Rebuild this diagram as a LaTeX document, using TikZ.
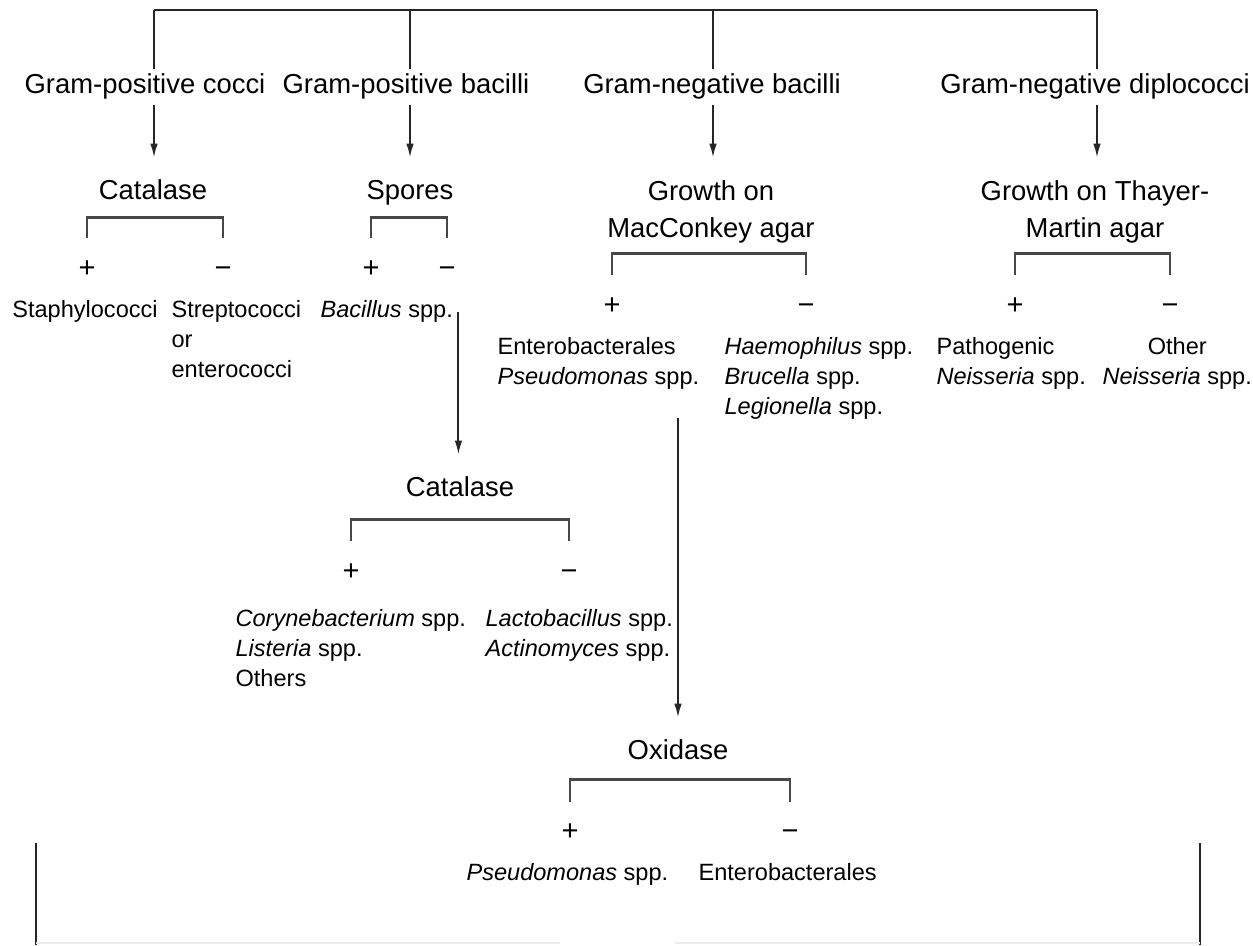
\documentclass[tikz,border=0pt]{standalone}
\usepackage{fontspec}
\setmainfont{Liberation Sans}
\usepackage{tikz}
\usetikzlibrary{arrows.meta,positioning,calc}

\begin{document}
\begin{tikzpicture}[
    >={Latex[length=2.8mm,width=1.5mm]},
    bar/.style={line width=1.1pt,black!85},
    arr/.style={->,line width=1.1pt,black!85,shorten >=3.4mm},
    brk/.style={line width=1.5pt,black!72},
    head/.style={font=\fontsize{15.6}{21.5}\selectfont,text=black,inner sep=3pt,text height=11.2pt,text depth=3.3pt},
    headtwo/.style={font=\fontsize{15.6}{21.5}\selectfont,text=black,inner sep=3pt,align=center},
    res/.style={font=\fontsize{13.4}{17}\selectfont,text=black,inner sep=3pt,align=left,anchor=north west},
    sign/.style={font=\fontsize{16.5}{17}\selectfont,text=black,inner sep=2pt,text height=9pt,text depth=0pt}]
\useasboundingbox (0,0) rectangle (25.06,-18.9);
% ===== top bar =====
\coordinate (t1) at (3.08,-0.2);
\coordinate (t2) at (8.2,-0.2);
\coordinate (t3) at (14.26,-0.2);
\coordinate (t4) at (21.94,-0.2);
\draw[bar] (t1) -- (t4);
% ===== Gram stain groups =====
\node[head] (gpc) at (2.9,-1.74)   {Gram-positive cocci};
\node[head] (gpb) at (8.12,-1.74)  {Gram-positive bacilli};
\node[head] (gnb) at (14.24,-1.74) {Gram-negative bacilli};
\node[head] (gnd) at (21.9,-1.74)  {Gram-negative diplococci};
\draw[bar] (t1) -- (t1 |- gpc.north);
\draw[bar] (t2) -- (t2 |- gpb.north);
\draw[bar] (t3) -- (t3 |- gnb.north);
\draw[bar] (t4) -- (t4 |- gnd.north);
% ===== first tests =====
\node[head]    (cat1) at (3.06,-3.86) {Catalase};
\node[head]    (spo)  at (8.2,-3.86)  {Spores};
\node[headtwo] (mac)  at (14.22,-4.24) {Growth on\\MacConkey agar};
\node[headtwo] (tm)   at (21.9,-4.24)  {Growth on Thayer-\\Martin agar};
\draw[arr] (gpc.south -| t1) -- (cat1.north -| t1);
\draw[arr] (gpb.south -| t2) -- (spo.north -| t2);
\draw[arr] (gnb.south -| t3) -- (mac.north -| t3);
\draw[arr] (gnd.south -| t4) -- (tm.north -| t4);
% ===== + / - of first tests =====
\node[sign] (pcat) at (1.74,-5.4)  {+};
\node[sign] (mcat) at (4.46,-5.4)  {−};
\node[sign] (pspo) at (7.42,-5.4)  {+};
\node[sign] (mspo) at (8.94,-5.4)  {−};
\node[sign] (pmac) at (12.24,-6.14) {+};
\node[sign] (mmac) at (16.12,-6.14) {−};
\node[sign] (ptm)  at (20.3,-6.14)  {+};
\node[sign] (mtm)  at (23.4,-6.14)  {−};
\draw[brk] ([yshift=4.1mm]pcat.north) |- ([yshift=-1.2mm]cat1.south) -| ([yshift=4.1mm]mcat.north);
\draw[brk] ([yshift=4.1mm]pspo.north) |- ([yshift=-1.2mm]spo.south) -| ([yshift=4.1mm]mspo.north);
\draw[brk] ([yshift=4.1mm]pmac.north) |- ([yshift=-0.8mm]mac.south) -| ([yshift=4.1mm]mmac.north);
\draw[brk] ([yshift=4.1mm]ptm.north) |- ([yshift=-0.8mm]tm.south) -| ([yshift=4.1mm]mtm.north);
% ===== organisms =====
\node[res,anchor=north] (sta) at (1.7,-5.9) {Staphylococci};
\node[res] (str) at (3.32,-5.9)  {Streptococci\\or\\enterococci};
\node[res] (bac) at (6.3,-5.9)   {\textit{Bacillus} spp.};
\node[res] (ent) at (9.84,-6.64) {Enterobacterales\\\textit{Pseudomonas} spp.};
\node[res] (hae) at (14.38,-6.64) {\textit{Haemophilus} spp.\\\textit{Brucella} spp.\\\textit{Legionella} spp.};
\node[res] (pat) at (18.62,-6.64) {Pathogenic\\\textit{Neisseria} spp.};
\node[res,align=center] (oth) at (21.94,-6.64) {Other\\\textit{Neisseria} spp.};
% ===== catalase for spore-negative bacilli =====
\node[head] (cat2) at (9.2,-9.8) {Catalase};
\draw[arr] (bac.east) -- (bac.east |- cat2.north);
\node[sign] (pcat2) at (7.02,-11.46)  {+};
\node[sign] (mcat2) at (11.38,-11.46) {−};
\draw[brk] ([yshift=4.1mm]pcat2.north) |- ([yshift=-2.2mm]cat2.south) -| ([yshift=4.1mm]mcat2.north);
\node[res] (cor) at (4.6,-12.08) {\textit{Corynebacterium} spp.\\\textit{Listeria} spp.\\Others};
\node[res] (lac) at (9.6,-12.08) {\textit{Lactobacillus} spp.\\\textit{Actinomyces} spp.};
% ===== oxidase =====
\node[head] (oxi) at (13.56,-15.06) {Oxidase};
\draw[arr] ($(ent.south -| oxi.north)+(0,-0.46)$) -- (oxi.north);
\node[sign] (poxi) at (11.4,-16.66) {+};
\node[sign] (moxi) at (15.8,-16.66) {−};
\draw[brk] ([yshift=3.9mm]poxi.north) |- ([yshift=-1.6mm]oxi.south) -| ([yshift=3.9mm]moxi.north);
\node[res] (pse) at (9.22,-17.16)  {\textit{Pseudomonas} spp.};
\node[res] (enb) at (13.86,-17.16) {Enterobacterales};
% ===== cut-off lines at the bottom =====
\coordinate (bl) at (0.72,-16.86);
\coordinate (br) at (24.0,-16.86);
\draw[bar] (bl) -- (bl |- 0,-18.9);
\draw[bar] (br) -- (br |- 0,-18.9);
\draw[black!8,line width=0.6pt] (bl |- 0,-18.86) -- (11.2,-18.86) (13.5,-18.86) -- (br |- 0,-18.86);
\end{tikzpicture}
\end{document}
